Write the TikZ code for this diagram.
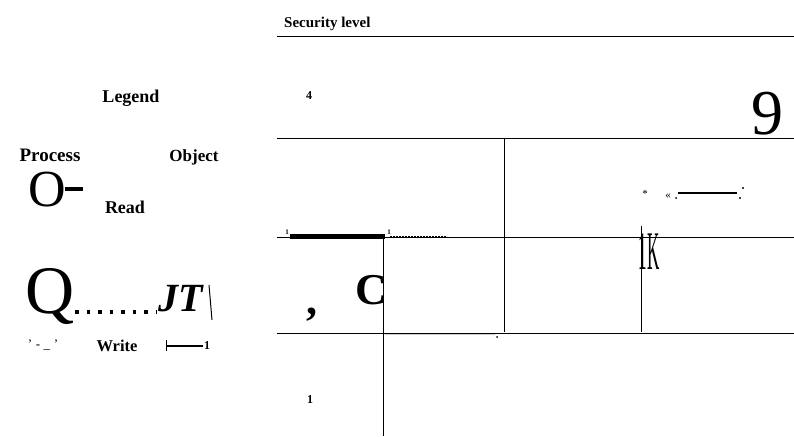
\documentclass[tikz,border=0pt]{standalone}
\usepackage{fontspec}
\setmainfont{Liberation Serif}
\tikzset{
  grid/.style={line width=1pt},
  lbl/.style={inner sep=0pt, font=\bfseries\fontsize{#1}{#1}\selectfont},
  small/.style={inner sep=0pt, font=\bfseries\fontsize{12}{12}\selectfont},
  tiny/.style={inner sep=0pt, font=\bfseries\fontsize{7}{7}\selectfont},
  big/.style={inner sep=0pt, font=\fontsize{#1}{#1}\selectfont},
}
\begin{document}
\begin{tikzpicture}[x=1pt,y=-1pt]
\useasboundingbox (0,0) rectangle (794,436);
% header
\node[lbl=15, anchor=west] (sec) at (284,24) {Security level};
\draw[grid] (277,37) -- (794,37);
\node[small] (four) at (309,96) {4};
\node[big=64] (nine) at (767,114) {9};
\draw[grid] (277,138) -- (794,138);
\draw[grid] (504,138) -- (504,332);
\draw[grid] (277,237) -- (794,237);
\draw[grid] (277,333) -- (794,333);
\draw[grid] (383,237) -- (383,436);
\draw[grid] (641,226) -- (641,332);
% thick and dotted segments
\draw[line width=4.5pt] (290,236.5) -- (385,236.5);
\draw[line width=2.5pt, dash pattern=on 2pt off 1pt] (390,237) -- (447,237);
\node[tiny] (t1) at (287,232) {1};
\node[tiny] (t2) at (389,232) {1};
% top-right marks
\node[big=11] (star) at (645,194) {*};
\node[big=11] (guil) at (668,196) {«};
\fill (676,198) circle (1pt);
\draw[line width=2pt] (678,193) -- (737,193);
\fill (743,188) circle (1.1pt);
\fill (740,198) circle (1.1pt);
\node[inner sep=0pt, font=\fontsize{34}{34}\selectfont, xscale=0.5, yscale=1.6] (lk) at (649,252) {1K};
% lower marks
\node[lbl=44] (comma) at (312,315) {,};
\node[lbl=44] (cc) at (371,290) {C};
\draw[gray!40, line width=0.5pt] (385,334.5) -- (495,334.5);
\fill (497,337) circle (1pt);
\node[small] (one) at (310,400) {1};
% legend
\node[lbl=18] (legend) at (131,98) {Legend};
\node[lbl=19, anchor=base] (process) at (50,161) {Process};
\node[lbl=17, anchor=base] (object) at (194,161) {Object};
\node[big=52] (obig) at (47,190) {O};
\draw[line width=4pt] (65,189) -- (83,189);
\node[lbl=18] (read) at (125,207) {Read};
\node[big=68] (qbig) at (50,296) {Q};
\draw[line width=3.5pt, dash pattern=on 3.5pt off 8pt] (75,312) -- (156,312);
\node[inner sep=0pt, font=\bfseries\itshape\fontsize{40}{40}\selectfont] (jt) at (181,299) {JT};
\draw[line width=1pt] (209,285) -- (212,320);
\node[big=13] (tick) at (43,345) {'\;-\;\_\;'};
\node[lbl=16.5] (write) at (117,346) {Write};
\draw[line width=1pt] (166,340) -- (166,351);
\draw[line width=1.5pt] (167,346) -- (203,346);
\node[small] (wone) at (207,346) {1};
\end{tikzpicture}
\end{document}
